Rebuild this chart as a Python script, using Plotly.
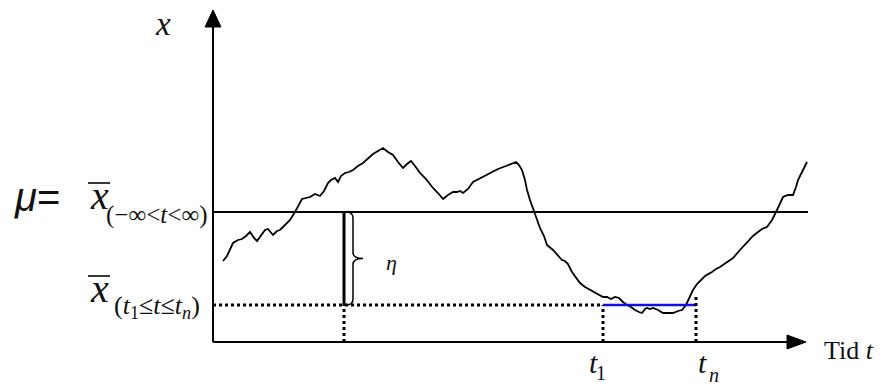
import plotly.graph_objects as go

# Time/level readings of the process x(t); origin of the axes at (0, 0)
t_curve = [10, 14, 20, 25, 29, 33, 37, 41, 44, 48, 52, 55, 58, 60, 64, 67, 72, 77, 82, 89, 93, 97,
           102, 107, 111, 115, 118, 122, 125, 128, 132, 136, 140, 145, 150, 155, 160, 165, 170,
           175, 180, 185, 190, 194, 198, 202, 207, 213, 220, 225, 230, 235, 240, 244, 247, 250,
           255, 260, 268, 277, 285, 293, 303, 306, 309, 312, 314, 317, 320, 324, 327, 331, 334,
           340, 345, 349, 352, 355, 359, 363, 367, 372, 377, 383, 390, 394, 398, 402, 406, 410,
           414, 418, 422, 426, 429, 432, 434, 437, 440, 445, 450, 455, 460, 465, 469, 473, 477,
           480, 484, 487, 492, 499, 503, 507, 513, 520, 527, 534, 540, 545, 549, 554, 559, 564,
           567, 570, 575, 580, 583, 585, 589, 594]
x_curve = [81, 86, 99, 102, 103, 106, 110, 104, 101, 106, 112, 113, 109, 107, 111, 112, 117, 122,
           130, 143, 144, 145, 148, 146, 151, 159, 162, 164, 160, 166, 169, 170, 172, 176, 179,
           184, 188, 191, 194, 190, 187, 180, 174, 178, 181, 176, 169, 163, 154, 149, 143, 147,
           150, 150, 151, 149, 153, 160, 164, 169, 173, 176, 180, 177, 172, 162, 152, 142, 134,
           124, 114, 106, 97, 92, 87, 82, 81, 78, 70, 65, 59, 55, 52, 49, 45, 45, 43, 45, 44,
           40, 37, 35, 32, 30, 29, 33, 34, 33, 34, 32, 29, 29, 29, 31, 32, 37, 45, 52, 58, 61,
           66, 70, 73, 75, 79, 84, 92, 100, 106, 110, 113, 115, 122, 132, 138, 145, 147, 147,
           155, 162, 170, 180]

# Levels and instants marked on the axes
mu_level = 130          # long-run mean
window_mean = 37        # mean over [t1, tn]
t_eta = 131             # where the gap eta is shown
t_1 = 390
t_n = 483
t_axis_end = 593
x_axis_end = 332

fig = go.Figure()

# process curve
fig.add_trace(go.Scatter(x=t_curve, y=x_curve, mode="lines",
                         line=dict(color="black", width=1.8), hoverinfo="skip"))

# long-run mean line
fig.add_trace(go.Scatter(x=[0, t_axis_end + 2], y=[mu_level, mu_level], mode="lines",
                         line=dict(color="black", width=2), hoverinfo="skip"))

# window mean, dotted up to t1 then blue across the window
fig.add_trace(go.Scatter(x=[0, t_1], y=[window_mean, window_mean], mode="lines",
                         line=dict(color="black", width=3, dash="dot"), hoverinfo="skip"))
fig.add_trace(go.Scatter(x=[t_1, t_n], y=[window_mean, window_mean], mode="lines",
                         line=dict(color="#1010e0", width=2.5), hoverinfo="skip"))

# dotted drop lines to the time axis
for tt, top in [(t_eta, window_mean), (t_1, window_mean), (t_n, window_mean + 10)]:
    fig.add_trace(go.Scatter(x=[tt, tt], y=[0, top], mode="lines",
                             line=dict(color="black", width=3, dash="dot"), hoverinfo="skip"))

# eta gap, solid bar between the two means
fig.add_trace(go.Scatter(x=[t_eta, t_eta], y=[window_mean, mu_level], mode="lines",
                         line=dict(color="black", width=3), hoverinfo="skip"))

shapes = []
# axes
shapes.append(dict(type="line", x0=0, y0=0, x1=0, y1=x_axis_end - 14,
                   line=dict(color="black", width=2)))
shapes.append(dict(type="line", x0=0, y0=0, x1=t_axis_end - 16, y1=0,
                   line=dict(color="black", width=2)))
# arrow heads
shapes.append(dict(type="path",
                   path=f"M -8,{x_axis_end-17} L 8,{x_axis_end-17} L 0,{x_axis_end} Z",
                   fillcolor="black", line=dict(color="black", width=1)))
shapes.append(dict(type="path",
                   path=f"M {t_axis_end-19},-7 L {t_axis_end-19},7 L {t_axis_end},0 Z",
                   fillcolor="black", line=dict(color="black", width=1)))
# curly brace next to the eta bar
mid = (mu_level + window_mean) / 2
b0, b1, tip = t_eta + 2, t_eta + 9, t_eta + 19
shapes.append(dict(type="path",
                   path=(f"M {b0},{mu_level} Q {b1},{mu_level} {b1},{mu_level-6} "
                         f"L {b1},{mid+6} Q {b1},{mid} {tip},{mid} "
                         f"Q {b1},{mid} {b1},{mid-6} L {b1},{window_mean+6} "
                         f"Q {b1},{window_mean} {b0},{window_mean}"),
                   line=dict(color="black", width=1.5)))
# bars over the x-bar symbols
for yy in (159, 66):
    shapes.append(dict(type="line", x0=-125, x1=-103, y0=yy, y1=yy,
                       line=dict(color="#222222", width=1.8)))

serif = "Liberation Serif"
ann = []
def label(text, x, y, size, family=serif, xanchor="center", color="#111111"):
    ann.append(dict(text=text, x=x, y=y, xref="x", yref="y", showarrow=False,
                    xanchor=xanchor, yanchor="middle",
                    font=dict(family=family, size=size, color=color)))

label("<i>x</i>", -50, 318, 33)
label("Tid <i>t</i>", 636, -8, 26)
label("<i>t</i>", 380, -20, 30)
label("1", 388, -31, 20)
label("<i>t</i>", 489, -20, 30)
label("<i>n</i>", 501, -33, 20)
label("<i>η</i>", 178, 80, 22)
label("<i>μ</i>=", -176, 145, 40, family="Liberation Sans")
label("<i>x</i>", -114, 147, 40)
label("(−∞&lt;<i>t</i>&lt;∞)", -56, 127, 25)
label("<i>x</i>", -114, 54, 40)
label("(<i>t</i><sub>1</sub>≤<i>t</i>≤<i>t</i><sub><i>n</i></sub>)", -56, 35, 26)

fig.update_layout(
    width=883, height=387, margin=dict(l=0, r=0, t=0, b=0),
    paper_bgcolor="white", plot_bgcolor="white", showlegend=False,
    xaxis=dict(range=[-213, 670], visible=False, fixedrange=True),
    yaxis=dict(range=[-45, 342], visible=False, fixedrange=True),
    shapes=shapes, annotations=ann,
)

fig.write_html("out.html")
